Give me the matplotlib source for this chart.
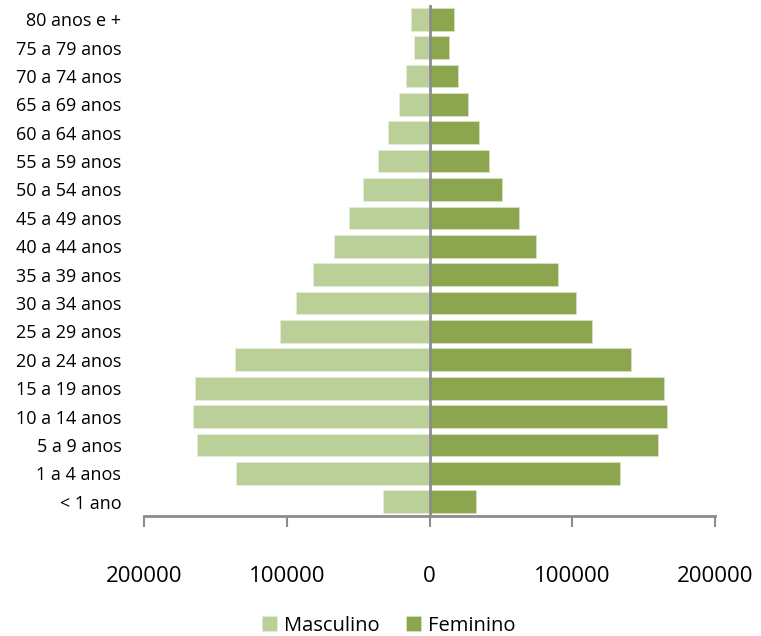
import numpy as np
import matplotlib
matplotlib.use('Agg')
import matplotlib.pyplot as plt

# --- data ---
faixas = ['< 1 ano', '1 a 4 anos', '5 a 9 anos', '10 a 14 anos', '15 a 19 anos',
          '20 a 24 anos', '25 a 29 anos', '30 a 34 anos', '35 a 39 anos',
          '40 a 44 anos', '45 a 49 anos', '50 a 54 anos', '55 a 59 anos',
          '60 a 64 anos', '65 a 69 anos', '70 a 74 anos', '75 a 79 anos',
          '80 anos e +']
masculino = [32900, 136000, 163000, 165600, 164700, 136700, 105100, 93700, 82000,
             66800, 56300, 47000, 36400, 29000, 21700, 16300, 11200, 13300]
feminino = [32700, 133600, 160300, 166100, 164200, 140900, 113700, 102800, 89700,
            74300, 62600, 50500, 41600, 34800, 27100, 19900, 13300, 17000]
xticks = [-200000, -100000, 0, 100000, 200000]
xtick_labels = ['200000', '100000', '0', '100000', '200000']

cor_m = '#bbcf98'
cor_f = '#8ba64f'
cinza = '#8c8c8c'

plt.rcParams['font.family'] = ['Open Sans', 'DejaVu Sans']

fig = plt.figure(figsize=(7.61, 6.36), dpi=100)
ax = fig.add_axes([0.1896, 0.1887, 0.750, 0.8035])

y = np.arange(len(faixas))
ax.barh(y, -np.array(masculino), height=0.8, color=cor_m, edgecolor='#e4ecd6',
        linewidth=0.6, label='Masculino')
ax.barh(y, feminino, height=0.8, color=cor_f, edgecolor='#d6e2c0',
        linewidth=0.6, label='Feminino')

ax.set_xlim(-200000, 200000)
ax.set_ylim(-0.5, len(faixas) - 0.5)

# linha do eixo no zero
ax.axvline(0, color=cinza, linewidth=2, zorder=3)

for s in ['top', 'right', 'left']:
    ax.spines[s].set_visible(False)
ax.spines['bottom'].set_color(cinza)
ax.spines['bottom'].set_linewidth(2)

ax.set_xticks(xticks)
ax.set_xticklabels(xtick_labels, fontsize=16)
ax.tick_params(axis='x', direction='out', length=8, width=1.5, color=cinza, pad=28)

ax.set_yticks(y)
ax.set_yticklabels(faixas, fontsize=13)
ax.tick_params(axis='y', length=0, pad=16.5)

ax.legend(loc='center', bbox_to_anchor=(0.428, -0.215), ncol=2, frameon=False,
          fontsize=14.5, handlelength=0.75, handleheight=0.75, handletextpad=0.35,
          columnspacing=1.3)

fig.savefig('out.png', dpi=100)
